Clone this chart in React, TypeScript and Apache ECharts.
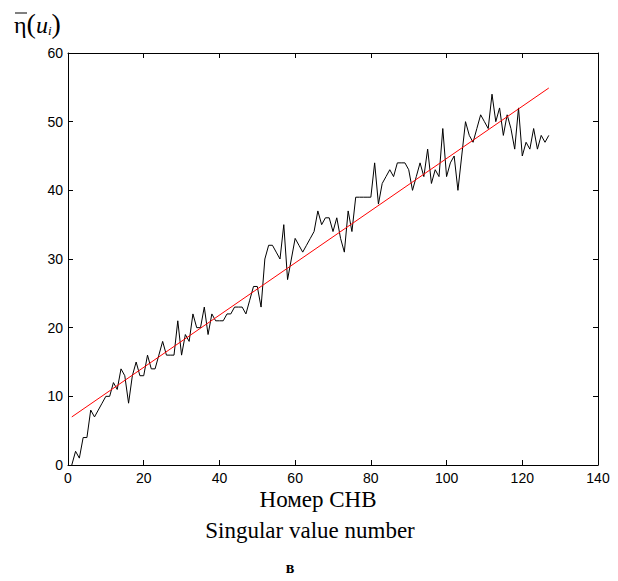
import React, { useEffect, useRef } from "react";
import * as echarts from "echarts";

// η̄(u_i) for singular value number 1..127
const etaValues = [
  0, 2, 1, 4, 4, 8, 7, 8, 9, 10,
  10, 12, 11, 14, 13, 9, 13, 15, 13, 13,
  16, 14, 14, 16, 18, 16, 16, 16, 21, 16,
  19, 18, 22, 20, 20, 23, 19, 22, 21, 21,
  21, 22, 22, 23, 23, 23, 22, 24, 26, 26,
  23, 30, 32, 32, 31, 30, 35, 27, 30, 33,
  32, 31, 32, 33, 34, 37, 35, 36, 36, 34,
  36, 33, 31, 37, 34, 39, 39, 39, 39, 39,
  44, 38, 41, 42, 43, 42, 44, 44, 44, 43,
  40, 42, 44, 42, 46, 41, 43, 42, 49, 42,
  44, 45, 40, 45, 50, 48, 47, 49, 51, 50,
  49, 54, 50, 52, 48, 51, 49, 46, 52, 45,
  47, 46, 49, 46, 48, 47, 48,
];
// linear trend endpoints
const trendX = [1, 127];
const trendY = [7.0, 54.9];

const xTicks = { min: 0, max: 140, interval: 20 };
const yTicks = { min: 0, max: 60, interval: 10 };

const SERIF = "Times New Roman, Liberation Serif, serif";
const SANS = "Liberation Sans";

export default function App() {
  const ref = useRef<HTMLDivElement>(null);
  useEffect(() => {
    if (!ref.current) return;
    const chart = echarts.init(ref.current, null, { renderer: "svg" });
    const mainData = etaValues.map((v, i) => [i + 1, v]);
    const trendData = trendX.map((x, i) => [x, trendY[i]]);
    const tickFont = { fontFamily: SANS, fontSize: 14, color: "#000" };
    const baseX = {
      type: "value" as const,
      min: xTicks.min,
      max: xTicks.max,
      interval: xTicks.interval,
      splitLine: { show: false },
      axisLine: { show: true, onZero: false, lineStyle: { color: "#000", width: 1 } },
      axisTick: { show: true, inside: true, length: 5, lineStyle: { color: "#000" } },
    };
    const baseY = {
      type: "value" as const,
      min: yTicks.min,
      max: yTicks.max,
      interval: yTicks.interval,
      splitLine: { show: false },
      axisLine: { show: true, onZero: false, lineStyle: { color: "#000", width: 1 } },
      axisTick: { show: true, inside: true, length: 5, lineStyle: { color: "#000" } },
    };
    const serifRich = (size: number, bold = false) => ({
      t: {
        fontFamily: SERIF,
        fontSize: size,
        lineHeight: size,
        fontWeight: bold ? "bold" : "normal",
        fill: "#000",
        color: "#000",
      },
    });
    chart.setOption({
      animation: false,
      backgroundColor: "#fff",
      grid: { left: 68, right: 20, top: 53, bottom: 116, containLabel: false },
      xAxis: [
        { ...baseX, position: "bottom", axisLabel: { ...tickFont, margin: 6 } },
        { ...baseX, position: "top", axisLabel: { show: false } },
      ],
      yAxis: [
        { ...baseY, position: "left", axisLabel: { ...tickFont, margin: 5 } },
        { ...baseY, position: "right", axisLabel: { show: false } },
      ],
      graphic: [
        {
          type: "text",
          x: 318,
          y: 488,
          style: { text: "{t|Номер СНВ}", rich: serifRich(23), align: "center" },
        },
        {
          type: "text",
          x: 310,
          y: 519,
          style: { text: "{t|Singular value number}", rich: serifRich(23), align: "center" },
        },
        {
          type: "text",
          x: 290,
          y: 559,
          style: { text: "{t|в}", rich: serifRich(16, true), align: "center" },
        },
        {
          type: "text",
          x: 14,
          y: 9,
          style: {
            text: "{e|η}{p|(}{u|u}{s|i}{p|)}",
            rich: {
              e: { fontFamily: SERIF, fontSize: 24, fill: "#000", verticalAlign: "bottom" },
              p: { fontFamily: SERIF, fontSize: 28, fill: "#000", verticalAlign: "bottom" },
              u: { fontFamily: SERIF, fontStyle: "italic", fontSize: 24, fill: "#000", verticalAlign: "bottom" },
              s: { fontFamily: SERIF, fontStyle: "italic", fontSize: 13, fill: "#000", verticalAlign: "bottom" },
            },
          },
        },
        {
          type: "line",
          shape: { x1: 15, y1: 13, x2: 27, y2: 13 },
          style: { stroke: "#000", lineWidth: 1 },
        },
      ],
      series: [
        {
          type: "line",
          data: mainData,
          showSymbol: false,
          symbol: "none",
          lineStyle: { color: "#000", width: 1 },
          z: 2,
        },
        {
          type: "line",
          data: trendData,
          showSymbol: false,
          symbol: "none",
          lineStyle: { color: "#ff0000", width: 1 },
          z: 3,
        },
      ],
    });
    return () => chart.dispose();
  }, []);
  return (
    <div
      ref={ref}
      style={{ position: "fixed", left: 0, top: 0, width: 618, height: 581, background: "#fff" }}
    />
  );
}
